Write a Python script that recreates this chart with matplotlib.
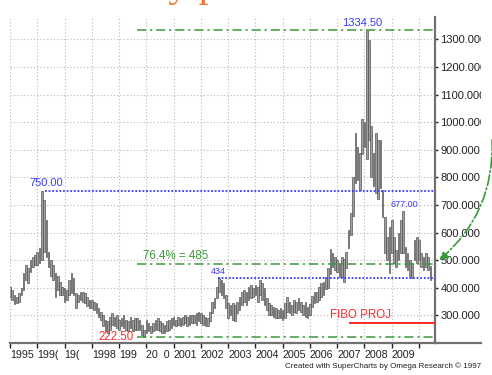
import matplotlib
matplotlib.use('Agg')
import matplotlib.pyplot as plt
import numpy as np
from matplotlib.patches import FancyArrowPatch
from matplotlib.lines import Line2D
from matplotlib.transforms import Bbox, TransformedBbox

plt.rcParams['font.family'] = ['Liberation Sans', 'DejaVu Sans']

# monthly bars, Jan 1995 .. Jun 2010 (one row per year)
high = [
    404, 392, 374, 368, 380, 398, 453, 483, 471, 501, 513, 519,
    531, 543, 750, 718, 646, 531, 501, 483, 453, 441, 422, 404,
    398, 392, 429, 453, 435, 380, 374, 386, 386, 380, 368, 356,
    354, 350, 344, 326, 314, 302, 284, 278, 296, 308, 296, 302,
    284, 290, 302, 284, 278, 296, 284, 290, 290, 284, 266, 248,
    284, 272, 260, 272, 284, 290, 278, 272, 266, 278, 284, 290,
    296, 284, 296, 290, 296, 302, 296, 302, 302, 302, 308, 314,
    308, 302, 296, 290, 314, 350, 362, 404, 434, 428, 416, 374,
    344, 338, 344, 338, 350, 368, 386, 392, 386, 404, 410, 398,
    410, 404, 428, 416, 398, 362, 344, 338, 332, 326, 320, 326,
    320, 344, 368, 350, 338, 356, 350, 362, 350, 338, 350, 332,
    340, 370, 386, 386, 404, 416, 422, 440, 470, 540, 525, 513,
    501, 489, 513, 505, 530, 610, 670, 800, 960, 910, 890, 1010,
    1000, 1334.5, 1297, 985, 890, 960, 935, 935, 754, 658, 585, 622,
    646, 585, 537, 597, 646, 677, 549, 525, 501, 489, 573, 585,
    573, 525, 513, 525, 513, 480,
]
low = [
    368, 356, 342, 346, 350, 374, 392, 429, 416, 459, 477, 483,
    483, 489, 501, 531, 513, 477, 441, 429, 368, 392, 374, 374,
    350, 356, 374, 380, 374, 326, 350, 356, 350, 344, 334, 326,
    326, 320, 308, 296, 284, 260, 242, 236, 248, 266, 260, 254,
    248, 260, 254, 248, 242, 254, 242, 248, 248, 248, 230, 222.5,
    236, 242, 236, 242, 248, 248, 242, 236, 236, 242, 248, 254,
    266, 260, 266, 260, 266, 272, 260, 266, 272, 272, 266, 278,
    272, 266, 260, 260, 278, 308, 326, 362, 386, 374, 362, 326,
    290, 302, 284, 278, 308, 320, 338, 350, 338, 356, 362, 368,
    374, 350, 374, 356, 338, 320, 302, 302, 296, 290, 290, 290,
    284, 290, 314, 308, 302, 314, 308, 320, 314, 302, 296, 290,
    300, 330, 344, 350, 356, 368, 374, 395, 400, 450, 477, 465,
    459, 440, 440, 420, 470, 545, 590, 660, 780, 790, 755, 885,
    910, 865, 935, 800, 770, 745, 720, 760, 658, 525, 501, 453,
    525, 489, 477, 501, 525, 525, 477, 465, 441, 435, 501, 489,
    501, 477, 465, 477, 465, 428,
]

years = list(range(1995, 2011))
year_labels = ['1995', '199(', '19(', '1998', '199', '20  0', '2001', '2002',
               '2003', '2004', '2005', '2006', '2007', '2008', '2009', '']
price_ticks = [300, 400, 500, 600, 700, 800, 900, 1000, 1100, 1200, 1300]

# marked levels
peak_2008 = 1334.5
peak_1996 = 750.0
fibo_764 = 485.0
high_2002 = 434.0
low_1999 = 222.5
high_2009 = 677.0
fibo_proj = 271.0

# where the level lines start (years)
fibo_start = 1999.65
l750_start = 1996.28
l434_start = 2002.62
proj_start = 2007.42

GREEN = '#3a9a3a'
BLUE = '#3a3aff'
RED = '#ff2a2a'
AXC = '#707070'

W, H = 492, 375
fig = plt.figure(figsize=(W / 100, H / 100), dpi=100)
ax = fig.add_axes([9.5 / W, 1 - 343 / H, (435 - 9.5) / W, (343 - 17) / H])

t = 1995 + np.arange(len(high)) / 12
hi = np.array(high)
lo = np.array(low)
ax.bar(t, hi - lo, bottom=lo, width=0.06, color='#a0a0a0',
       edgecolor='#484848', linewidth=0.45, zorder=3)

ax.set_xlim(1995 - 0.5 / 27.3, 1995 + 425.5 / 27.3)
ax.set_ylim(200, 1381)
xr = ax.get_xlim()[1]

# level lines
dashdot = (0, (6, 2.5, 1.5, 2.5))
ax.hlines([peak_2008, fibo_764, low_1999], fibo_start, xr, colors=GREEN,
          linestyles=[dashdot], linewidth=1.1, zorder=4)
ax.hlines(peak_1996, l750_start, xr, colors=BLUE, linestyles=[(0, (1, 1))],
          linewidth=1.3, zorder=4)
ax.hlines(high_2002, l434_start, xr, colors=BLUE, linestyles=[(0, (1, 1))],
          linewidth=1.3, zorder=4)
ax.hlines(fibo_proj, proj_start, xr, colors=RED, linewidth=1.4, zorder=4)

# labels
ax.text(2007.91, 1361, '%.2f' % peak_2008, color=BLUE, fontsize=8,
        ha='center', va='center')
ax.text(1996.34, 778, '%.2f' % peak_1996, color=BLUE, fontsize=8,
        ha='center', va='center')
ax.text(1999.87, 515, '76.4%% = %d' % fibo_764, color=GREEN, fontsize=8.3,
        ha='left', va='center')
ax.text(2002.64, 458, '%d' % high_2002, color=BLUE, fontsize=6.5,
        ha='center', va='center')
ax.text(1998.9, 220.5, '%.2f' % low_1999, color=RED, fontsize=8.3,
        ha='center', va='center', zorder=5)
ax.text(2009.47, 700, '%.2f' % high_2009, color=BLUE, fontsize=6.5,
        ha='center', va='center')
ax.text(2006.72, 302, 'FIBO PROJ', color=RED, fontsize=8.3,
        ha='left', va='center')

# axes styling
for s in ['top', 'left']:
    ax.spines[s].set_visible(False)
for s in ['right', 'bottom']:
    ax.spines[s].set_color(AXC)
    ax.spines[s].set_linewidth(1.6)

ax.yaxis.tick_right()
ax.set_yticks(price_ticks)
ax.set_yticklabels(['%.3f' % p for p in price_ticks])
ax.set_xticks(years)
ax.set_xticklabels(year_labels)
ax.tick_params(axis='y', direction='out', length=2.5, width=1, pad=1.5,
               colors='#222222', labelsize=8)
ax.tick_params(axis='x', direction='out', length=3.5, width=1, pad=1.5,
               colors='#222222', labelsize=7.7)
for lbl in ax.get_xticklabels():
    lbl.set_horizontalalignment('left')

ax.grid(True, color='#b8b8b8', linestyle=(0, (1, 2)), linewidth=0.8, zorder=0)
ax.set_axisbelow(True)

clip = TransformedBbox(Bbox([[0, 0], [481 / W, 1]]), fig.transFigure)
for lbl in ax.get_yticklabels():
    lbl.set_clip_box(clip)
    lbl.set_clip_on(True)

# bottom axis runs on under the price scale
fig.add_artist(Line2D([435 / W, 481 / W], [1 - 343 / H] * 2,
                      transform=fig.transFigure, color=AXC, lw=1.6))

# curved projection arrow
arr = FancyArrowPatch((1.0, 1 - 137 / H), (437 / W, 1 - 262 / H),
                      transform=fig.transFigure,
                      connectionstyle='arc3,rad=-0.25',
                      arrowstyle='-|>,head_length=5,head_width=2.5',
                      linestyle='-.', color=GREEN, lw=1.2)
fig.add_artist(arr)

# title, cut off by the top edge
fig.text(50 / W, 1 + 3.5 / H, 'Monthly price', fontsize=29,
         family='Liberation Serif', color='#f07830', va='baseline')

fig.text(285 / W, 1 - 366 / H,
         'Created with SuperCharts by Omega Research \u00a9 1997',
         fontsize=5.8, color='#202020', ha='left', va='center')

fig.savefig('out.png', dpi=100)
